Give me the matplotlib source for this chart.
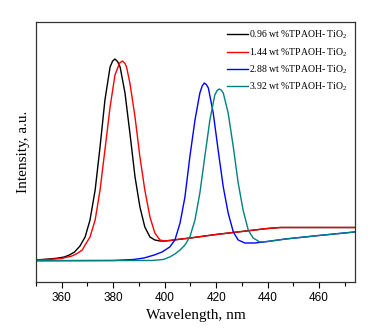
import numpy as np
import matplotlib
matplotlib.use("Agg")
import matplotlib.pyplot as plt
from matplotlib.ticker import MultipleLocator

# Spectra (wavelength in nm, intensity in arbitrary units)
wl_black = [350, 355, 358, 361, 363, 365, 367.1, 369.1, 371, 373, 374.9, 376.8,
            378.8, 379.8, 380.7, 381.7, 382.7, 384.6, 386.5, 388.5, 390.4, 392.3,
            394.3, 396.2, 398.2, 400, 402, 405, 410, 420, 430, 440, 445, 475]
int_black = [22, 23, 23.7, 25, 27, 30, 36, 45, 62, 92, 135, 182,
             215, 221, 223, 220.5, 215, 189, 149, 105, 75, 55,
             45, 42, 41, 41, 41.5, 42.5, 44, 47.5, 50.5, 53.5, 54.5, 54.5]

wl_red = [350, 355, 360, 364, 366, 368, 369.1, 371, 373, 374.9, 376.8, 378.8,
          380.7, 382.5, 383.6, 384.6, 385.2, 386.5, 388.5, 390.4, 392.3, 394.3,
          396.2, 398.2, 400, 402, 405, 410, 420, 430, 440, 445, 475]
int_red = [22, 22.5, 23.5, 26, 28.5, 32, 37, 45, 62, 92, 132, 175,
           207, 219, 221, 218.5, 215, 199, 165, 125, 92, 65,
           49, 42, 41, 41.5, 42.5, 44, 47.5, 50.5, 53.5, 54.5, 54.5]

wl_blue = [350, 380, 388, 392, 396, 399, 402, 404, 406, 407.9, 409.8, 411.8,
           413.7, 414.6, 415.4, 416.2, 417, 418.9, 420.8, 422.8, 424.7, 426.7,
           428.6, 431.2, 435.1, 440, 447, 460, 475]
int_blue = [21.3, 21.5, 22.5, 24, 27, 30, 35, 42, 59, 85, 125, 162,
            189, 196, 199, 197.5, 194, 169, 132, 95, 69, 50,
            42, 39, 39, 40.5, 43, 46.5, 50.3]

wl_teal = [350, 395, 399.5, 402, 404, 406, 407.9, 409.8, 411.8, 413.7, 415.6,
           417.6, 419.5, 420.4, 421.2, 422, 422.8, 424.7, 426.7, 428.6, 430.5,
           432.5, 434.4, 437, 440, 447, 460, 475]
int_teal = [21.3, 21.5, 22.5, 25, 28, 32, 37, 45, 62, 89, 125,
            162, 187, 191.5, 193, 192, 189, 169, 135, 99, 72,
            52, 44, 40, 40.5, 43, 46.5, 50.3]

labels = ["0.96 wt %TPAOH- TiO$_2$", "1.44 wt %TPAOH- TiO$_2$",
          "2.88 wt %TPAOH- TiO$_2$", "3.92 wt %TPAOH- TiO$_2$"]
colors = ["#000000", "#ff0000", "#0000ff", "#008080"]

plt.rcParams['font.family'] = 'Liberation Serif'
plt.rcParams['mathtext.default'] = 'regular'

fig = plt.figure(figsize=(3.8, 3.3), dpi=100)
ax = fig.add_axes([0.0947, 0.1455, 0.8395, 0.7878])

series = [(wl_black, int_black), (wl_red, int_red),
          (wl_blue, int_blue), (wl_teal, int_teal)]
for (x, y), c, lab in zip(series, colors, labels):
    ax.plot(x, y, color=c, lw=1.0, label=lab)

ax.set_xlim(350, 474)
ax.set_ylim(0, 260)
ax.xaxis.set_major_locator(MultipleLocator(20))
ax.xaxis.set_minor_locator(MultipleLocator(10))
ax.set_yticks([])
ax.tick_params(axis='x', which='major', direction='out', length=4, width=0.8)
ax.tick_params(axis='x', which='minor', direction='out', length=3, width=0.8)
for t in ax.get_xticklabels():
    t.set_fontfamily('Liberation Sans')
    t.set_fontsize(8.5)
for s in ax.spines.values():
    s.set_linewidth(0.9)
    s.set_color('#333333')

ax.set_xlabel("Wavelength, nm", fontsize=11, labelpad=3)
ax.set_ylabel("Intensity, a.u.", fontsize=11, labelpad=4)

ax.legend(loc='upper right', frameon=False, fontsize=7, handlelength=2.1,
          handletextpad=0.2, labelspacing=0.5, borderaxespad=0.3)

fig.savefig("out.png", dpi=100)
